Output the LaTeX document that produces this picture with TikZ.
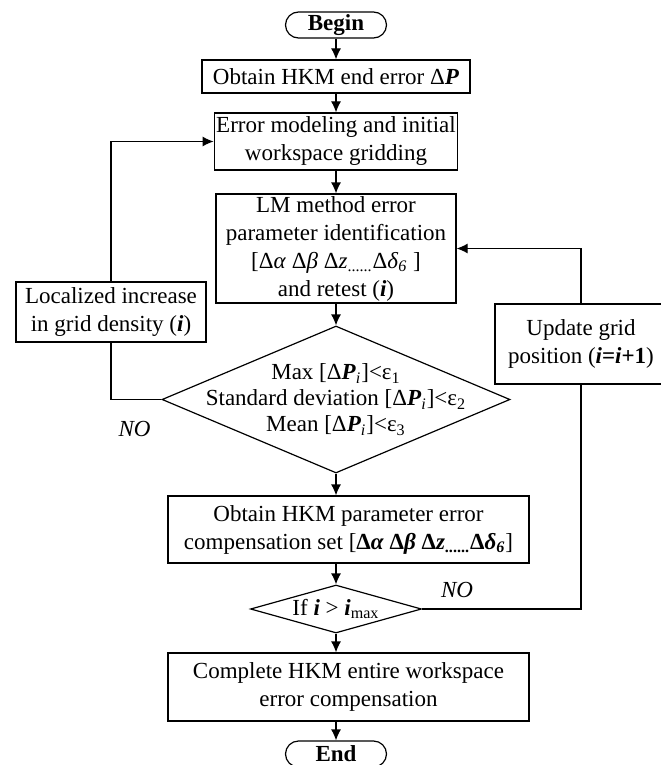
\documentclass[tikz,border=0pt]{standalone}
\usepackage{fontspec}
\setmainfont{Liberation Serif}
\usetikzlibrary{shapes.geometric,arrows.meta}

\newcommand{\Pbold}{\textbf{\textit{P}}}
\newcommand{\ibold}{\textbf{\textit{i}}}

\begin{document}
\begin{tikzpicture}[x=0.5pt,y=-0.5pt,
    every node/.style={font=\fontsize{11.5pt}{14pt}\selectfont},
    box/.style={draw,line width=0.6pt,align=center,inner sep=1pt},
    term/.style={draw,line width=0.6pt,rounded corners=6.5pt,minimum width=50.5pt,
        minimum height=13pt,inner sep=0pt,font=\fontsize{11.5pt}{14pt}\selectfont\bfseries},
    dec/.style={draw,line width=0.6pt,shape=diamond,inner sep=0pt},
    flow/.style={line width=0.6pt,-{Latex[length=5.5pt,width=5pt]}},
    link/.style={line width=0.6pt}]

    % --- Page size (pixel units, y downwards) ---
    \useasboundingbox (0,0) rectangle (660,765);

    % --- Main column ---
    \node[term] (begin) at (336,25) {Begin};
    \node[box,minimum width=134pt,minimum height=16.5pt] (obtain) at (336,76.5)
        {Obtain HKM end error Δ\Pbold};
    \node[box,minimum width=121.5pt,minimum height=28.5pt] (model) at (336,141.5)
        {Error modeling and initial\\workspace gridding};
    \node[box,minimum width=120pt,minimum height=54.5pt] (lm) at (336,248.5)
        {LM method error\\parameter identification\\{}[Δ\textit{α} Δ\textit{β} Δ\textit{z}\textsubscript{......}Δ\textit{δ}\textsubscript{\textit{6}} ]\\and retest (\ibold)};

    % first check
    \node[dec,minimum width=174pt,minimum height=73.5pt] (check) at (336,399.5) {};
    \node[align=center,font=\fontsize{11.5pt}{13pt}\selectfont] (checktxt) at (check.center)
        {Max [Δ\Pbold\textsubscript{\textit{i}}]<ε\textsubscript{1}\\
         Standard deviation [Δ\Pbold\textsubscript{\textit{i}}]<ε\textsubscript{2}\\
         Mean [Δ\Pbold\textsubscript{\textit{i}}]<ε\textsubscript{3}};

    \node[box,minimum width=180.5pt,minimum height=33.5pt] (param) at (348.5,529.5)
        {Obtain HKM parameter error\\compensation set [\textbf{Δ\textit{α} Δ\textit{β} Δ\textit{z}\textsubscript{......}Δ\textit{δ}\textsubscript{\textit{6}}}]};

    % second check
    \node[dec,minimum width=85.5pt,minimum height=24pt] (iter) at (336,609) {};
    \node (itertxt) at (iter.center) {If \ibold{} > \ibold\textsubscript{max}};

    \node[box,minimum width=180.5pt,minimum height=34pt] (complete) at (348.5,687)
        {Complete HKM entire workspace\\error compensation};
    \node[term] (end) at (336,754) {End};

    % --- Side boxes ---
    \node[box,minimum width=95pt,minimum height=30pt] (local) at (111,312)
        {Localized increase\\in grid density (\ibold)};
    \node[box,minimum width=86pt,minimum height=40pt] (update) at (581,344)
        {Update grid\\position (\textbf{\textit{i}=\textit{i}+1})};

    % --- Labels ---
    \node[font=\fontsize{11.5pt}{14pt}\selectfont\itshape] (no1) at (134.5,429) {NO};
    \node[font=\fontsize{11.5pt}{14pt}\selectfont\itshape] (no2) at (457,590) {NO};

    % --- Arrows down the column ---
    \draw[flow] (begin) -- (obtain);
    \draw[flow] (obtain) -- (model);
    \draw[flow] (model) -- (lm);
    \draw[flow] (lm) -- (check);
    \draw[flow] (check.south) -- (check.south |- param.north);
    \draw[flow] (iter.north |- param.south) -- (iter.north);
    \draw[flow] (iter.south) -- (iter.south |- complete.north);
    \draw[flow] (end.north |- complete.south) -- (end.north);

    % --- Loops ---
    \draw[link] (check.west) -| (local.south);
    \draw[flow] (local.north) |- (model.west);
    \draw[link] (iter.east) -| (update.south);
    \draw[flow] (update.north) |- (lm.east);

\end{tikzpicture}
\end{document}
